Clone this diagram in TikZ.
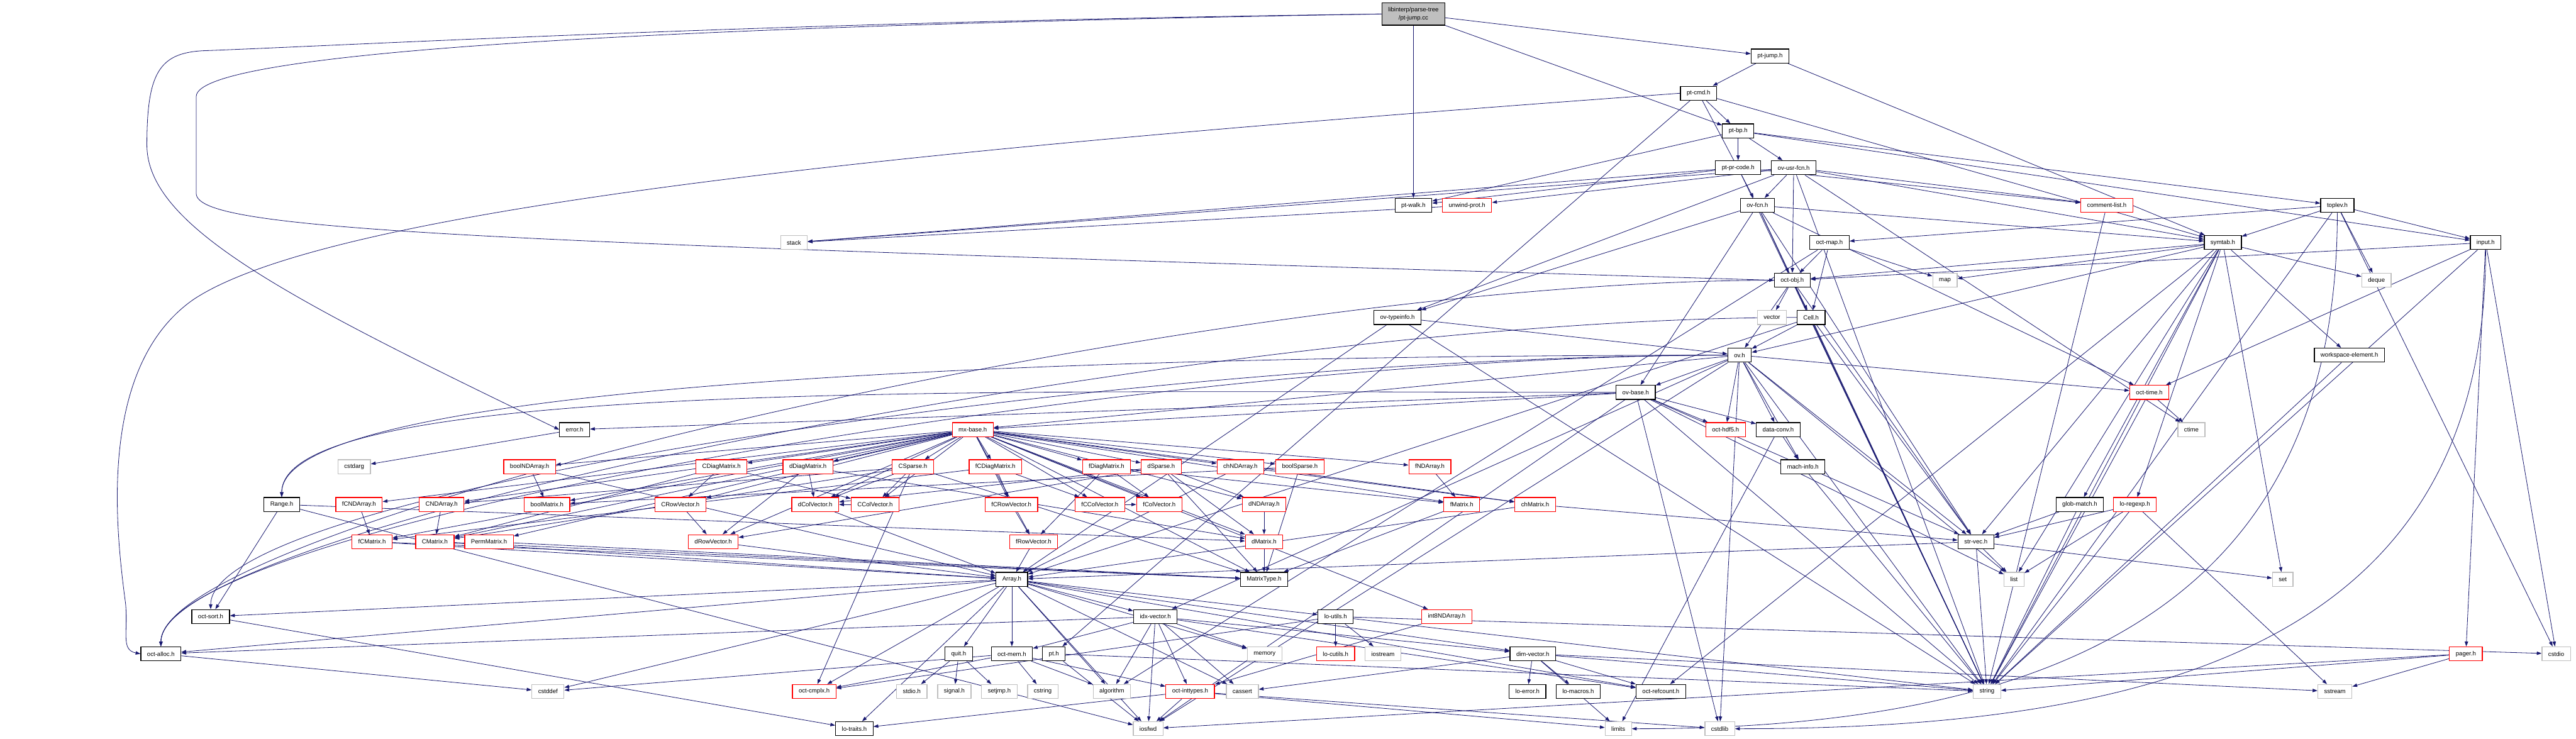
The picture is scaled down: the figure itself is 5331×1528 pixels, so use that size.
\documentclass[tikz,border=0pt]{standalone}
\usepackage{fontspec}
\newfontfamily\dxfam{Liberation Sans}
\usetikzlibrary{arrows.meta}
\definecolor{mblue}{RGB}{25,25,112}
\definecolor{gbox}{RGB}{191,191,191}
\pgfdeclarelayer{bg}
\pgfsetlayers{bg,main}
\tikzset{
  hb/.style={draw=black, fill=white, line width=0.45pt, minimum height=0.29cm, inner xsep=0.13cm, inner ysep=0pt, font=\dxfam\fontsize{3.56pt}{4.3pt}\selectfont, text=black},
  hr/.style={hb, draw=red},
  hs/.style={hb, draw=gbox},
  dep/.style={draw=mblue, line width=0.3pt, -{Triangle[length=0.1cm,width=0.07cm]}},
}
\begin{document}
\begin{tikzpicture}[x=0.01cm,y=0.01cm]
\useasboundingbox (0,0) rectangle (5331,-1528);
% nodes
\node[hb, fill=gbox, minimum height=0.46cm, align=center, font=\dxfam\fontsize{3.56pt}{4.8pt}\selectfont] (root) at (2925,-29) {libinterp/parse-tree\\/pt-jump.cc};
\node[hb] (ptjumph) at (3663,-116) {pt-jump.h};
\node[hb] (ptcmd) at (3515,-193) {pt-cmd.h};
\node[hb] (ptbp) at (3597,-271) {pt-bp.h};
\node[hb] (ptprcode) at (3597,-347) {pt-pr-code.h};
\node[hb] (ovusrfcn) at (3712,-347) {ov-usr-fcn.h};
\node[hb] (ptwalk) at (2925,-425) {pt-walk.h};
\node[hr] (unwind) at (3036,-425) {unwind-prot.h};
\node[hb] (ovfcn) at (3637,-425) {ov-fcn.h};
\node[hr] (commentlist) at (4360,-425) {comment-list.h};
\node[hb] (toplev) at (4837,-425) {toplev.h};
\node[hs] (stack) at (1643,-502) {stack};
\node[hb] (octmap) at (3786,-502) {oct-map.h};
\node[hb] (symtab) at (4600,-502) {symtab.h};
\node[hb] (input) at (5144,-502) {input.h};
\node[hb] (octobj) at (3709,-580) {oct-obj.h};
\node[hs] (map) at (4025,-580) {map};
\node[hs] (deque) at (4918,-580) {deque};
\node[hb] (ovtypeinfo) at (2892,-657) {ov-typeinfo.h};
\node[hs] (vector) at (3667,-657) {vector};
\node[hb] (cell) at (3748,-657) {Cell.h};
\node[hb] (ovh) at (3600,-735) {ov.h};
\node[hb] (wselem) at (4862,-735) {workspace-element.h};
\node[hb] (ovbase) at (3385,-812) {ov-base.h};
\node[hr] (octtime) at (4448,-812) {oct-time.h};
\node[hb] (errorh) at (1189,-889) {error.h};
\node[hr] (mxbase) at (2013,-889) {mx-base.h};
\node[hr] (octhdf) at (3571,-889) {oct-hdf5.h};
\node[hb] (dataconv) at (3680,-889) {data-conv.h};
\node[hs] (ctime) at (4535,-889) {ctime};
\node[hs] (cstdarg) at (733,-966) {cstdarg};
\node[hr] (boolNDA) at (1096,-966) {boolNDArray.h};
\node[hr] (CDiag) at (1493,-966) {CDiagMatrix.h};
\node[hr] (dDiag) at (1672,-966) {dDiagMatrix.h};
\node[hr] (CSparse) at (1889,-966) {CSparse.h};
\node[hr] (fCDiag) at (2060,-966) {fCDiagMatrix.h};
\node[hr] (fDiag) at (2290,-966) {fDiagMatrix.h};
\node[hr] (dSparse) at (2403,-966) {dSparse.h};
\node[hr] (chNDA) at (2567,-966) {chNDArray.h};
\node[hr] (boolSparse) at (2690,-966) {boolSparse.h};
\node[hr] (fNDA) at (2959,-966) {fNDArray.h};
\node[hb] (mach) at (3731,-966) {mach-info.h};
\node[hb] (range) at (583,-1044) {Range.h};
\node[hr] (fCNDA) at (743,-1044) {fCNDArray.h};
\node[hr] (CNDA) at (914,-1044) {CNDArray.h};
\node[hr] (boolMat) at (1132,-1044) {boolMatrix.h};
\node[hr] (CRowV) at (1408,-1044) {CRowVector.h};
\node[hr] (dColV) at (1687,-1044) {dColVector.h};
\node[hr] (CColV) at (1811,-1044) {CColVector.h};
\node[hr] (fCRowV) at (2093,-1044) {fCRowVector.h};
\node[hr] (fCColV) at (2276,-1044) {fCColVector.h};
\node[hr] (fColV) at (2399,-1044) {fColVector.h};
\node[hr] (dNDA) at (2616,-1044) {dNDArray.h};
\node[hr] (fMat) at (3025,-1044) {fMatrix.h};
\node[hr] (chMat) at (3177,-1044) {chMatrix.h};
\node[hb] (globmatch) at (4304,-1044) {glob-match.h};
\node[hr] (loregexp) at (4418,-1044) {lo-regexp.h};
\node[hr] (fCMat) at (770,-1121) {fCMatrix.h};
\node[hr] (CMat) at (900,-1121) {CMatrix.h};
\node[hr] (PermMat) at (1012,-1121) {PermMatrix.h};
\node[hr] (dRowV) at (1476,-1121) {dRowVector.h};
\node[hr] (fRowV) at (2139,-1121) {fRowVector.h};
\node[hr] (dMat) at (2616,-1121) {dMatrix.h};
\node[hb] (strvec) at (4089,-1121) {str-vec.h};
\node[hb] (array) at (2094,-1199) {Array.h};
\node[hb] (matrixtype) at (2616,-1199) {MatrixType.h};
\node[hs] (list) at (4168,-1199) {list};
\node[hs] (set) at (4724,-1199) {set};
\node[hb] (octsort) at (436,-1276) {oct-sort.h};
\node[hb] (idxvec) at (2391,-1276) {idx-vector.h};
\node[hb] (loutils) at (2764,-1276) {lo-utils.h};
\node[hr] (int8) at (2994,-1276) {int8NDArray.h};
\node[hb] (octalloc) at (333,-1353) {oct-alloc.h};
\node[hb] (quit) at (1984,-1353) {quit.h};
\node[hb] (octmem) at (2094,-1353) {oct-mem.h};
\node[hb] (pth) at (2181,-1353) {pt.h};
\node[hs] (memory) at (2617,-1353) {memory};
\node[hr] (locutils) at (2764,-1353) {lo-cutils.h};
\node[hs] (iostream) at (2862,-1353) {iostream};
\node[hb] (dimvec) at (3172,-1353) {dim-vector.h};
\node[hr] (pager) at (5103,-1353) {pager.h};
\node[hs] (cstdio) at (5290,-1353) {cstdio};
\node[hs] (cstddef) at (1134,-1431) {cstddef};
\node[hr] (octcmplx) at (1685,-1431) {oct-cmplx.h};
\node[hs] (stdioh) at (1887,-1431) {stdio.h};
\node[hs] (signalh) at (1975,-1431) {signal.h};
\node[hs] (setjmp) at (2068,-1431) {setjmp.h};
\node[hs] (cstring) at (2158,-1431) {cstring};
\node[hs] (algorithm) at (2301,-1431) {algorithm};
\node[hr] (octint) at (2463,-1431) {oct-inttypes.h};
\node[hs] (cassert) at (2571,-1431) {cassert};
\node[hb] (loerror) at (3161,-1431) {lo-error.h};
\node[hb] (lomacros) at (3266,-1431) {lo-macros.h};
\node[hb] (octref) at (3437,-1431) {oct-refcount.h};
\node[hs] (stringh) at (4112,-1431) {string};
\node[hs] (sstream) at (4832,-1431) {sstream};
\node[hb] (lotraits) at (1768,-1508) {lo-traits.h};
\node[hs] (iosfwd) at (2376,-1508) {iosfwd};
\node[hs] (limits) at (3349,-1508) {limits};
\node[hs] (cstdlib) at (3559,-1508) {cstdlib};
% edges
\begin{pgfonlayer}{bg}
\fill[white] (0,0) rectangle (5331,-1528);
\draw[dep] (root.west) .. controls (1600,-45) and (700,-95) .. (420,-105) .. controls (330,-110) and (304,-150) .. (304,-300) .. controls (304,-470) and (600,-620) .. (errorh.west);
\draw[dep] (root.west) .. controls (1500,-52) and (406,-100) .. (406,-200) -- (406,-400) .. controls (406,-480) and (1000,-500) .. (octobj.west);
\draw[dep] (ptcmd.west) .. controls (2000,-300) and (700,-420) .. (400,-620) .. controls (200,-760) and (240,-1100) .. (260,-1250) .. controls (265,-1310) and (250,-1345) .. (octalloc.west);
\foreach \a/\b in {ovh/range, ovh/octalloc, ovh/octsort, octobj/octalloc, cell/octalloc, ovbase/range}
  \draw[dep] (\a.west) .. controls +(-1200,0) and +(0,250) .. (\b.north);
\foreach \a/\b in {input/cstdlib, toplev/limits}
  \draw[dep] (\a.south) .. controls +(0,-800) and +(900,0) .. (\b.east);
\foreach \a/\b in {
 root/ptjumph, root/ptbp, root/ptwalk,
 ptjumph/ptcmd, ptjumph/symtab,
 ptcmd/ptbp, ptcmd/ovfcn, ptcmd/symtab, ptcmd/pth,
 ptbp/ptprcode, ptbp/ovusrfcn, ptbp/ptwalk, ptbp/toplev, ptbp/input,
 ptprcode/ptwalk, ptprcode/stack, ptprcode/commentlist, ptprcode/stringh,
 ovusrfcn/ovfcn, ovusrfcn/unwind, ovusrfcn/commentlist, ovusrfcn/symtab, ovusrfcn/stack, ovusrfcn/octobj, ovusrfcn/ovtypeinfo, ovusrfcn/stringh, ovusrfcn/ctime,
 ovfcn/octobj, ovfcn/ovtypeinfo, ovfcn/ovbase, ovfcn/octtime, ovfcn/strvec, ovfcn/stringh, ovfcn/symtab,
 unwind/stack, commentlist/stringh,
 toplev/symtab, toplev/input, toplev/deque, toplev/cstdio, toplev/stringh, toplev/octmap,
 octmap/octobj, octmap/cell, octmap/map, octmap/algorithm,
 symtab/map, symtab/deque, symtab/list, symtab/set, symtab/stringh, symtab/globmatch, symtab/loregexp, symtab/wselem, symtab/ovh, symtab/octobj, symtab/strvec, symtab/octref,
 input/octtime, input/octobj, input/pager, input/cstdio, input/stringh,
 octobj/vector, octobj/cell, octobj/ovh, octobj/strvec, octobj/stringh,
 cell/ovh, cell/array, cell/strvec, cell/stringh,
 ovtypeinfo/ovh, ovtypeinfo/array, ovtypeinfo/stringh,
 ovh/ovbase, ovh/octhdf, ovh/dataconv, ovh/mach, ovh/octtime, ovh/idxvec, ovh/mxbase, ovh/strvec, ovh/stringh, ovh/list, ovh/cstdlib, ovh/iosfwd,
 ovbase/octhdf, ovbase/dataconv, ovbase/errorh, ovbase/mxbase, ovbase/strvec, ovbase/list, ovbase/stringh, ovbase/cstdlib, ovbase/iosfwd,
 dataconv/mach, dataconv/limits, mach/stringh, octtime/ctime, octtime/stringh, wselem/stringh, errorh/cstdarg,
 mxbase/boolNDA, mxbase/CDiag, mxbase/dDiag, mxbase/CSparse, mxbase/fCDiag, mxbase/fDiag, mxbase/dSparse, mxbase/chNDA, mxbase/boolSparse, mxbase/fNDA, mxbase/fCNDA, mxbase/CNDA, mxbase/boolMat, mxbase/CRowV, mxbase/dColV, mxbase/CColV, mxbase/fCRowV, mxbase/fCColV, mxbase/fColV, mxbase/dNDA, mxbase/fMat, mxbase/chMat, mxbase/fCMat, mxbase/CMat, mxbase/PermMat, mxbase/dRowV, mxbase/fRowV, mxbase/dMat, mxbase/int8, mxbase/matrixtype,
 boolNDA/boolMat, boolNDA/array,
 CDiag/CRowV, CDiag/CColV, CDiag/CMat,
 dDiag/dRowV, dDiag/dColV, dDiag/dMat,
 CSparse/CMat, CSparse/CColV, CSparse/dColV, CSparse/matrixtype, CSparse/CNDA, CSparse/octcmplx,
 fCDiag/fCRowV, fCDiag/fCColV, fCDiag/fCMat,
 fDiag/fRowV, fDiag/fColV, fDiag/fMat,
 dSparse/dMat, dSparse/dNDA, dSparse/dColV, dSparse/matrixtype, dSparse/dRowV,
 chNDA/chMat, chNDA/array, boolSparse/boolMat, boolSparse/matrixtype,
 fNDA/fMat, fCNDA/fCMat, CNDA/CMat, CRowV/dRowV, CColV/dColV, fCRowV/fRowV, fCColV/fColV, dNDA/dMat,
 dMat/matrixtype, fMat/matrixtype, chMat/strvec, chMat/array, CMat/matrixtype, CMat/array, fCMat/matrixtype, fCMat/array, PermMat/matrixtype,
 dRowV/array, dColV/array, fRowV/array, int8/octint,
 range/octsort, range/dMat, range/iosfwd, octsort/lotraits,
 array/idxvec, array/loutils, array/quit, array/octmem, array/algorithm, array/lotraits, array/octsort, array/octalloc, array/iosfwd, array/cassert, array/cstddef, array/memory, array/dimvec, array/octref, array/octcmplx,
 idxvec/dimvec, idxvec/octint, idxvec/cassert, idxvec/algorithm, idxvec/iosfwd, idxvec/memory, idxvec/octmem, idxvec/octalloc, idxvec/octref,
 loutils/locutils, loutils/iostream, loutils/octcmplx, loutils/stringh, loutils/cstdio,
 quit/stdioh, quit/signalh, quit/setjmp,
 octmem/cstring, octmem/algorithm, octmem/octint, octmem/octcmplx, octmem/cstddef,
 pth/iosfwd, pth/stringh,
 dimvec/loerror, dimvec/lomacros, dimvec/octref, dimvec/limits, dimvec/stringh, dimvec/sstream, dimvec/cassert,
 pager/sstream, pager/stringh, pager/iosfwd, octalloc/cstddef,
 octint/iosfwd, octint/lotraits, octint/cstdlib, octint/limits,
 strvec/list, strvec/set, strvec/stringh, strvec/array,
 globmatch/strvec, globmatch/stringh,
 loregexp/strvec, loregexp/list, loregexp/sstream, loregexp/stringh}
  \draw[dep] (\a) -- (\b);
\end{pgfonlayer}
\end{tikzpicture}
\end{document}
